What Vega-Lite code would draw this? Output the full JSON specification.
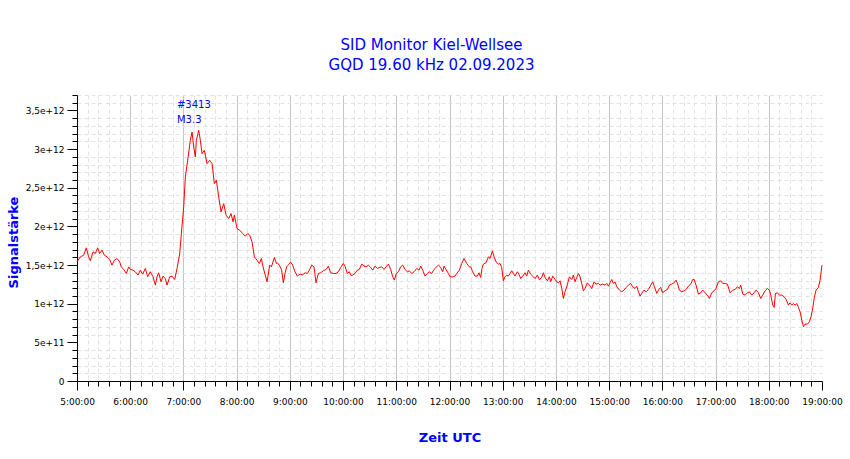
{
"$schema": "https://vega.github.io/schema/vega-lite/v6.json",
"width": 745, "height": 286,
"autosize": "none",
"padding": {"left": 77, "top": 95, "right": 28, "bottom": 78},
"background": "white",
"config": {"view": {"stroke": null}, "font": "DejaVu Sans"},
"title": {"text": ["SID Monitor Kiel-Wellsee", "GQD 19.60 kHz 02.09.2023"], "font": "DejaVu Sans", "fontSize": 15, "fontWeight": "normal", "color": "#0000ff", "lineHeight": 20, "anchor": "middle", "dx": -18, "offset": 18},
"datasets": {
"sig": [
{"t":5.000,"v":1.541e12},{"t":5.063,"v":1.606e12},{"t":5.125,"v":1.628e12},{"t":5.175,"v":1.723e12},{"t":5.219,"v":1.606e12},{"t":5.251,"v":1.555e12},{"t":5.301,"v":1.671e12},{"t":5.345,"v":1.649e12},{"t":5.388,"v":1.723e12},{"t":5.426,"v":1.649e12},{"t":5.470,"v":1.693e12},{"t":5.514,"v":1.628e12},{"t":5.564,"v":1.606e12},{"t":5.614,"v":1.572e12},{"t":5.658,"v":1.499e12},{"t":5.702,"v":1.563e12},{"t":5.752,"v":1.585e12},{"t":5.802,"v":1.541e12},{"t":5.833,"v":1.477e12},{"t":5.877,"v":1.443e12},{"t":5.927,"v":1.391e12},{"t":5.971,"v":1.477e12},{"t":6.003,"v":1.443e12},{"t":6.053,"v":1.434e12},{"t":6.096,"v":1.413e12},{"t":6.147,"v":1.370e12},{"t":6.190,"v":1.434e12},{"t":6.234,"v":1.382e12},{"t":6.284,"v":1.456e12},{"t":6.328,"v":1.348e12},{"t":6.378,"v":1.413e12},{"t":6.429,"v":1.348e12},{"t":6.472,"v":1.240e12},{"t":6.504,"v":1.348e12},{"t":6.535,"v":1.400e12},{"t":6.579,"v":1.283e12},{"t":6.617,"v":1.357e12},{"t":6.660,"v":1.326e12},{"t":6.692,"v":1.240e12},{"t":6.742,"v":1.348e12},{"t":6.786,"v":1.357e12},{"t":6.836,"v":1.313e12},{"t":6.880,"v":1.456e12},{"t":6.930,"v":1.649e12},{"t":6.961,"v":1.908e12},{"t":7.005,"v":2.252e12},{"t":7.036,"v":2.640e12},{"t":7.080,"v":2.855e12},{"t":7.130,"v":3.114e12},{"t":7.162,"v":3.221e12},{"t":7.193,"v":3.028e12},{"t":7.224,"v":2.898e12},{"t":7.243,"v":3.114e12},{"t":7.287,"v":3.243e12},{"t":7.318,"v":3.114e12},{"t":7.350,"v":2.941e12},{"t":7.393,"v":2.985e12},{"t":7.444,"v":2.812e12},{"t":7.494,"v":2.855e12},{"t":7.538,"v":2.812e12},{"t":7.581,"v":2.554e12},{"t":7.619,"v":2.597e12},{"t":7.663,"v":2.381e12},{"t":7.707,"v":2.188e12},{"t":7.757,"v":2.295e12},{"t":7.801,"v":2.145e12},{"t":7.851,"v":2.102e12},{"t":7.895,"v":2.166e12},{"t":7.932,"v":2.059e12},{"t":7.957,"v":2.145e12},{"t":8.008,"v":1.972e12},{"t":8.058,"v":1.951e12},{"t":8.114,"v":1.908e12},{"t":8.164,"v":1.873e12},{"t":8.208,"v":1.908e12},{"t":8.246,"v":1.886e12},{"t":8.289,"v":1.800e12},{"t":8.333,"v":1.606e12},{"t":8.383,"v":1.563e12},{"t":8.427,"v":1.520e12},{"t":8.465,"v":1.585e12},{"t":8.496,"v":1.477e12},{"t":8.571,"v":1.283e12},{"t":8.622,"v":1.499e12},{"t":8.653,"v":1.477e12},{"t":8.709,"v":1.598e12},{"t":8.747,"v":1.520e12},
{"t":8.765,"v":1.529e12},{"t":8.802,"v":1.499e12},{"t":8.846,"v":1.434e12},{"t":8.878,"v":1.270e12},{"t":8.909,"v":1.391e12},{"t":8.940,"v":1.477e12},{"t":8.984,"v":1.512e12},{"t":9.015,"v":1.537e12},{"t":9.053,"v":1.499e12},{"t":9.097,"v":1.413e12},{"t":9.141,"v":1.357e12},{"t":9.191,"v":1.382e12},{"t":9.241,"v":1.374e12},{"t":9.285,"v":1.400e12},{"t":9.329,"v":1.391e12},{"t":9.366,"v":1.434e12},{"t":9.410,"v":1.499e12},{"t":9.454,"v":1.477e12},{"t":9.492,"v":1.270e12},{"t":9.535,"v":1.391e12},{"t":9.579,"v":1.400e12},{"t":9.629,"v":1.426e12},{"t":9.680,"v":1.443e12},{"t":9.723,"v":1.486e12},{"t":9.767,"v":1.400e12},{"t":9.817,"v":1.391e12},{"t":9.867,"v":1.391e12},{"t":9.911,"v":1.413e12},{"t":9.955,"v":1.469e12},{"t":10.005,"v":1.520e12},{"t":10.037,"v":1.486e12},{"t":10.080,"v":1.391e12},{"t":10.118,"v":1.413e12},{"t":10.149,"v":1.365e12},{"t":10.181,"v":1.370e12},{"t":10.225,"v":1.391e12},{"t":10.268,"v":1.434e12},{"t":10.306,"v":1.443e12},{"t":10.350,"v":1.512e12},{"t":10.394,"v":1.486e12},{"t":10.431,"v":1.477e12},{"t":10.475,"v":1.499e12},{"t":10.519,"v":1.469e12},{"t":10.557,"v":1.434e12},{"t":10.600,"v":1.486e12},{"t":10.644,"v":1.456e12},{"t":10.682,"v":1.469e12},{"t":10.726,"v":1.477e12},{"t":10.770,"v":1.443e12},{"t":10.807,"v":1.477e12},{"t":10.851,"v":1.512e12},{"t":10.895,"v":1.443e12},{"t":10.933,"v":1.348e12},{"t":10.964,"v":1.305e12},{"t":10.995,"v":1.382e12},{"t":11.039,"v":1.413e12},{"t":11.083,"v":1.477e12},{"t":11.120,"v":1.499e12},{"t":11.164,"v":1.443e12},{"t":11.208,"v":1.413e12},{"t":11.246,"v":1.426e12},{"t":11.290,"v":1.391e12},{"t":11.334,"v":1.413e12},{"t":11.384,"v":1.456e12},{"t":11.427,"v":1.434e12},{"t":11.459,"v":1.486e12},{"t":11.496,"v":1.434e12},{"t":11.540,"v":1.357e12},{"t":11.584,"v":1.391e12},{"t":11.622,"v":1.413e12},{"t":11.666,"v":1.391e12},{"t":11.709,"v":1.443e12},{"t":11.747,"v":1.469e12},{"t":11.791,"v":1.499e12},{"t":11.835,"v":1.469e12},{"t":11.872,"v":1.413e12},{"t":11.897,"v":1.486e12},{"t":11.935,"v":1.443e12},{"t":11.979,"v":1.391e12},{"t":12.010,"v":1.348e12},{"t":12.060,"v":1.348e12},{"t":12.104,"v":1.357e12},{"t":12.135,"v":1.391e12},{"t":12.186,"v":1.434e12},{"t":12.229,"v":1.520e12},{"t":12.273,"v":1.585e12},{"t":12.323,"v":1.520e12},{"t":12.373,"v":1.477e12},
{"t":12.398,"v":1.477e12},{"t":12.436,"v":1.413e12},{"t":12.480,"v":1.357e12},{"t":12.524,"v":1.357e12},{"t":12.555,"v":1.400e12},{"t":12.586,"v":1.339e12},{"t":12.611,"v":1.456e12},{"t":12.637,"v":1.512e12},{"t":12.687,"v":1.529e12},{"t":12.731,"v":1.606e12},{"t":12.762,"v":1.585e12},{"t":12.806,"v":1.684e12},{"t":12.837,"v":1.606e12},{"t":12.875,"v":1.541e12},{"t":12.919,"v":1.512e12},{"t":12.950,"v":1.520e12},{"t":12.981,"v":1.469e12},{"t":13.012,"v":1.296e12},{"t":13.044,"v":1.348e12},{"t":13.075,"v":1.370e12},{"t":13.106,"v":1.357e12},{"t":13.138,"v":1.391e12},{"t":13.169,"v":1.426e12},{"t":13.200,"v":1.391e12},{"t":13.232,"v":1.357e12},{"t":13.276,"v":1.413e12},{"t":13.313,"v":1.370e12},{"t":13.338,"v":1.326e12},{"t":13.376,"v":1.357e12},{"t":13.420,"v":1.400e12},{"t":13.451,"v":1.357e12},{"t":13.482,"v":1.434e12},{"t":13.526,"v":1.382e12},{"t":13.564,"v":1.357e12},{"t":13.608,"v":1.326e12},{"t":13.651,"v":1.370e12},{"t":13.689,"v":1.313e12},{"t":13.733,"v":1.339e12},{"t":13.764,"v":1.400e12},{"t":13.796,"v":1.339e12},{"t":13.839,"v":1.296e12},{"t":13.877,"v":1.348e12},{"t":13.902,"v":1.283e12},{"t":13.940,"v":1.357e12},{"t":13.984,"v":1.313e12},{"t":14.015,"v":1.283e12},{"t":14.046,"v":1.270e12},{"t":14.078,"v":1.296e12},{"t":14.109,"v":1.197e12},{"t":14.140,"v":1.068e12},{"t":14.171,"v":1.154e12},{"t":14.203,"v":1.219e12},{"t":14.253,"v":1.348e12},{"t":14.297,"v":1.313e12},{"t":14.328,"v":1.370e12},{"t":14.359,"v":1.283e12},{"t":14.391,"v":1.339e12},{"t":14.422,"v":1.391e12},{"t":14.453,"v":1.348e12},{"t":14.485,"v":1.262e12},{"t":14.516,"v":1.167e12},{"t":14.547,"v":1.197e12},{"t":14.591,"v":1.270e12},{"t":14.629,"v":1.240e12},{"t":14.673,"v":1.197e12},{"t":14.717,"v":1.283e12},{"t":14.754,"v":1.253e12},{"t":14.798,"v":1.262e12},{"t":14.829,"v":1.240e12},{"t":14.880,"v":1.253e12},{"t":14.923,"v":1.240e12},{"t":14.955,"v":1.262e12},{"t":14.986,"v":1.227e12},{"t":15.017,"v":1.270e12},{"t":15.049,"v":1.313e12},{"t":15.080,"v":1.262e12},{"t":15.111,"v":1.283e12},{"t":15.143,"v":1.219e12},{"t":15.193,"v":1.176e12},{"t":15.237,"v":1.154e12},{"t":15.280,"v":1.176e12},{"t":15.318,"v":1.210e12},{"t":15.362,"v":1.240e12},{"t":15.406,"v":1.262e12},{"t":15.443,"v":1.219e12},{"t":15.487,"v":1.197e12},{"t":15.518,"v":1.227e12},{"t":15.550,"v":1.154e12},{"t":15.581,"v":1.098e12},{"t":15.612,"v":1.133e12},{"t":15.656,"v":1.176e12},{"t":15.694,"v":1.154e12},{"t":15.738,"v":1.184e12},{"t":15.782,"v":1.240e12},{"t":15.819,"v":1.283e12},{"t":15.851,"v":1.219e12},{"t":15.895,"v":1.133e12},{"t":15.945,"v":1.197e12},
{"t":15.969,"v":1.210e12},{"t":16.001,"v":1.141e12},{"t":16.051,"v":1.167e12},{"t":16.095,"v":1.184e12},{"t":16.132,"v":1.240e12},{"t":16.176,"v":1.253e12},{"t":16.220,"v":1.270e12},{"t":16.258,"v":1.305e12},{"t":16.283,"v":1.262e12},{"t":16.320,"v":1.176e12},{"t":16.364,"v":1.154e12},{"t":16.408,"v":1.167e12},{"t":16.446,"v":1.184e12},{"t":16.489,"v":1.227e12},{"t":16.533,"v":1.253e12},{"t":16.571,"v":1.313e12},{"t":16.596,"v":1.313e12},{"t":16.634,"v":1.240e12},{"t":16.677,"v":1.124e12},{"t":16.721,"v":1.141e12},{"t":16.759,"v":1.176e12},{"t":16.803,"v":1.141e12},{"t":16.847,"v":1.111e12},{"t":16.884,"v":1.068e12},{"t":16.928,"v":1.141e12},{"t":16.972,"v":1.167e12},{"t":17.009,"v":1.197e12},{"t":17.053,"v":1.283e12},{"t":17.097,"v":1.296e12},{"t":17.135,"v":1.262e12},{"t":17.179,"v":1.262e12},{"t":17.222,"v":1.253e12},{"t":17.273,"v":1.141e12},{"t":17.323,"v":1.176e12},{"t":17.367,"v":1.184e12},{"t":17.410,"v":1.219e12},{"t":17.448,"v":1.197e12},{"t":17.473,"v":1.240e12},{"t":17.511,"v":1.124e12},{"t":17.555,"v":1.111e12},{"t":17.598,"v":1.141e12},{"t":17.636,"v":1.154e12},{"t":17.680,"v":1.111e12},{"t":17.724,"v":1.141e12},{"t":17.761,"v":1.176e12},{"t":17.805,"v":1.141e12},{"t":17.849,"v":1.068e12},{"t":17.887,"v":1.111e12},{"t":17.930,"v":1.167e12},{"t":17.974,"v":1.197e12},{"t":18.012,"v":1.176e12},{"t":18.037,"v":1.111e12},{"t":18.075,"v":0.982e12},{"t":18.100,"v":0.952e12},{"t":18.125,"v":1.133e12},{"t":18.162,"v":1.141e12},{"t":18.200,"v":1.111e12},{"t":18.244,"v":1.111e12},{"t":18.288,"v":1.090e12},{"t":18.325,"v":1.055e12},{"t":18.369,"v":0.982e12},{"t":18.400,"v":1.012e12},{"t":18.432,"v":0.982e12},{"t":18.463,"v":1.003e12},{"t":18.494,"v":0.982e12},{"t":18.526,"v":1.003e12},{"t":18.557,"v":0.952e12},{"t":18.588,"v":0.896e12},{"t":18.620,"v":0.788e12},{"t":18.651,"v":0.702e12},{"t":18.682,"v":0.736e12},{"t":18.726,"v":0.736e12},{"t":18.764,"v":0.767e12},{"t":18.795,"v":0.831e12},{"t":18.826,"v":0.939e12},{"t":18.858,"v":1.090e12},{"t":18.889,"v":1.176e12},{"t":18.933,"v":1.210e12},{"t":18.964,"v":1.305e12},{"t":19.000,"v":1.499e12}
],
"ann": [
{"t": 6.879, "v": 3.566e12, "label": "#3413"},
{"t": 6.879, "v": 3.372e12, "label": "M3.3"}
]
},
"layer": [
{
"data": {"name": "sig"},
"mark": {"type": "line", "color": "#ff0000", "strokeWidth": 1},
"encoding": {
"x": {"field": "t", "type": "quantitative", "scale": {"domain": [5, 19], "nice": false, "zero": false},
"axis": {"orient": "bottom", "tickCount": 500, "values": [5,5.2,5.4,5.6,5.8,6,6.2,6.4,6.6,6.8,7,7.2,7.4,7.6,7.8,8,8.2,8.4,8.6,8.8,9,9.2,9.4,9.6,9.8,10,10.2,10.4,10.6,10.8,11,11.2,11.4,11.6,11.8,12,12.2,12.4,12.6,12.8,13,13.2,13.4,13.6,13.8,14,14.2,14.4,14.6,14.8,15,15.2,15.4,15.6,15.8,16,16.2,16.4,16.6,16.8,17,17.2,17.4,17.6,17.8,18,18.2,18.4,18.6,18.8,19],
"labelExpr": "datum.value % 1 == 0 ? datum.value + ':00:00' : ''", "labelFlush": false, "labelOverlap": false, "labelFont": "DejaVu Sans", "labelFontSize": 9, "labelColor": "#000000", "labelPadding": 7,
"tickSize": {"condition": {"test": "datum.value % 1 == 0", "value": 9}, "value": 5}, "tickColor": "#000000", "domainColor": "#000000",
"grid": true,
"gridColor": {"condition": {"test": "datum.value % 1 == 0", "value": "#c4c4c4"}, "value": "#e2e2e2"},
"gridDash": {"condition": {"test": "datum.value % 1 == 0", "value": []}, "value": [4, 3]},
"gridOpacity": {"condition": {"test": "datum.value == 19", "value": 0}, "value": 1},
"title": "Zeit UTC", "titleFont": "DejaVu Sans", "titleFontSize": 13, "titleFontWeight": "bold", "titleColor": "#0000ff", "titleX": 372.5, "titleY": 56, "titleBaseline": "middle", "titleAlign": "center"}},
"y": {"field": "v", "type": "quantitative", "scale": {"domain": [0, 3.7e12], "nice": false},
"axis": {"orient": "left", "tickCount": 500, "values": [0,1e11,2e11,3e11,4e11,5e11,6e11,7e11,8e11,9e11,1e12,1.1e12,1.2e12,1.3e12,1.4e12,1.5e12,1.6e12,1.7e12,1.8e12,1.9e12,2e12,2.1e12,2.2e12,2.3e12,2.4e12,2.5e12,2.6e12,2.7e12,2.8e12,2.9e12,3e12,3.1e12,3.2e12,3.3e12,3.4e12,3.5e12,3.6e12,3.7e12],
"labelExpr": "datum.value == 0 ? '0' : (datum.value % 5e11 == 0 ? replace(format(datum.value, '.2~e'), '.', ',') : '')", "labelFlush": false, "labelOverlap": false, "labelFont": "DejaVu Sans", "labelFontSize": 9, "labelColor": "#000000", "labelPadding": 3,
"tickSize": {"condition": {"test": "datum.value % 5e11 == 0", "value": 10}, "value": 5}, "tickColor": "#000000", "domainColor": "#000000",
"grid": true, "gridColor": "#e2e2e2", "gridDash": [4, 3],
"gridOpacity": {"condition": {"test": "datum.value % 5e11 == 0", "value": 0}, "value": 1},
"title": "Signalstärke", "titleFont": "DejaVu Sans", "titleFontSize": 13, "titleFontWeight": "bold", "titleColor": "#0000ff", "titleAngle": -90, "titleX": -64, "titleY": 147, "titleBaseline": "middle", "titleAlign": "center"}}
}
},
{
"data": {"name": "ann"},
"mark": {"type": "text", "align": "left", "baseline": "middle", "font": "DejaVu Sans", "fontSize": 10, "color": "#0000ff"},
"encoding": {
"x": {"field": "t", "type": "quantitative"},
"y": {"field": "v", "type": "quantitative"},
"text": {"field": "label", "type": "nominal"}
}
}
]
}
